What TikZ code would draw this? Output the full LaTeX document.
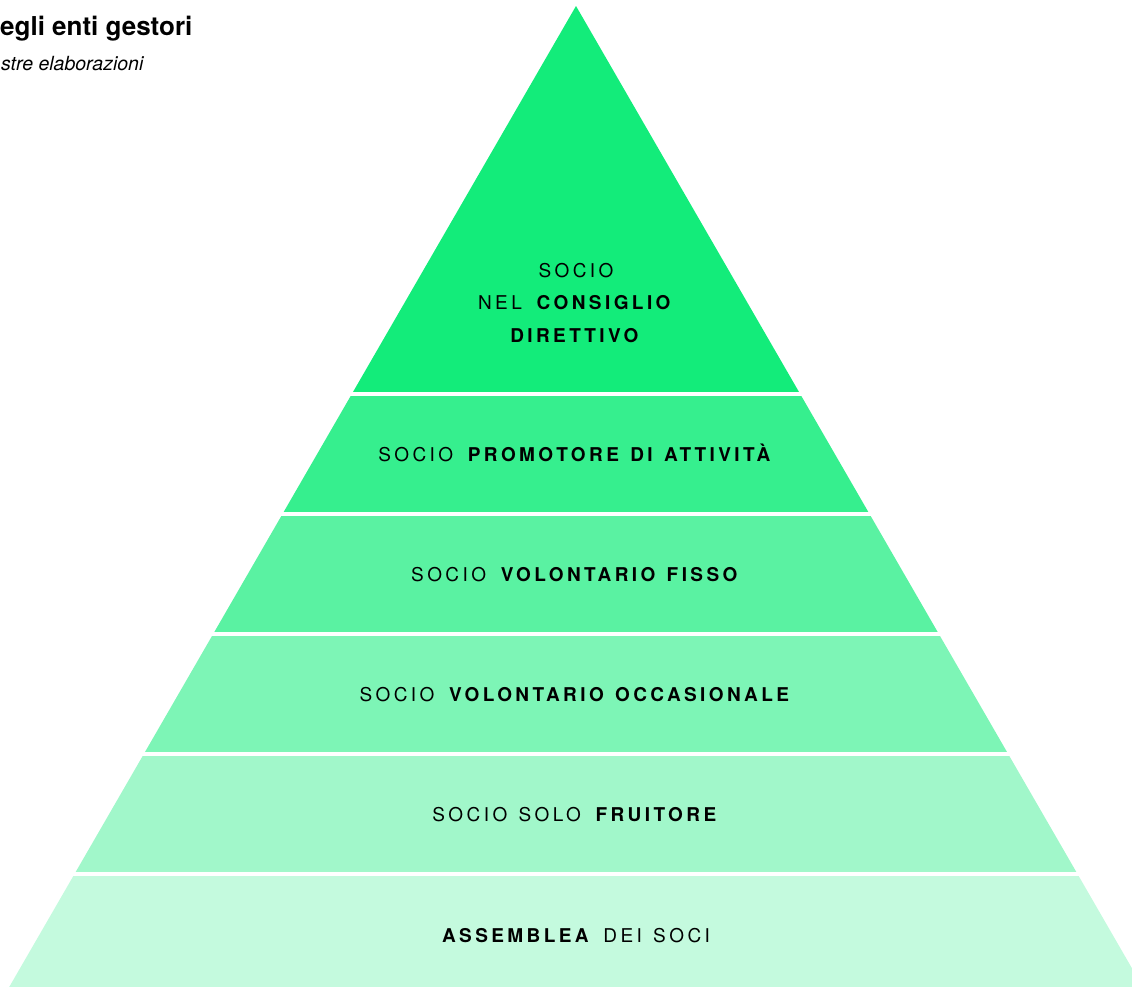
\documentclass[tikz,border=0pt]{standalone}
\usepackage{xcolor}
\usepackage{fontspec}
\setmainfont{TeX Gyre Heros}
\newfontfamily\fontfasce[LetterSpace=18,WordSpace=1.3]{TeX Gyre Heros}
\definecolor{verdesoci}{RGB}{19,236,122}

\begin{document}
\begin{tikzpicture}[x=1pt,y=-1pt,
	livello/.style={anchor=base, inner sep=0pt,
		font=\fontfasce\fontsize{19}{32.5}\selectfont},
	]
	\useasboundingbox (0,0) rectangle (1132,986);
	
	% titolo e fonte
	\node[anchor=base west, inner sep=0pt, font=\fontsize{26}{30}\selectfont\bfseries] (titolo) at (0,35) {egli enti gestori};
	\node[anchor=base west, inner sep=0pt, font=\fontsize{19.5}{22}\selectfont\itshape] (fonte) at (1,70) {stre elaborazioni};
	
	% la piramide, tagliata a fasce
	\begin{scope}
		\clip (576,6) -- (1148,996) -- (4,996) -- cycle;
		\foreach \alto/\basso/\tinta in {0/392/100, 396/512/85, 516/632/70,
			636/752/55, 756/872/40, 876/1000/25}
			\fill[verdesoci!\tinta!white] (0,\alto) rectangle (1132,\basso);
	\end{scope}
	
	% etichette delle fasce
	\node[livello, anchor=center, align=center] (consiglio) at (576,303)
		{SOCIO\\NEL \textbf{CONSIGLIO}\\\textbf{DIRETTIVO}};
	\node[livello] (promotore) at (576,461) {SOCIO \textbf{PROMOTORE DI ATTIVITÀ}};
	\node[livello] (fisso) at (576,581) {SOCIO \textbf{VOLONTARIO FISSO}};
	\node[livello] (occasionale) at (576,701) {SOCIO \textbf{VOLONTARIO OCCASIONALE}};
	\node[livello] (fruitore) at (576,821) {SOCIO SOLO \textbf{FRUITORE}};
	\node[livello] (assemblea) at (576,942) {\textbf{ASSEMBLEA} DEI SOCI};
	
\end{tikzpicture}
\end{document}
